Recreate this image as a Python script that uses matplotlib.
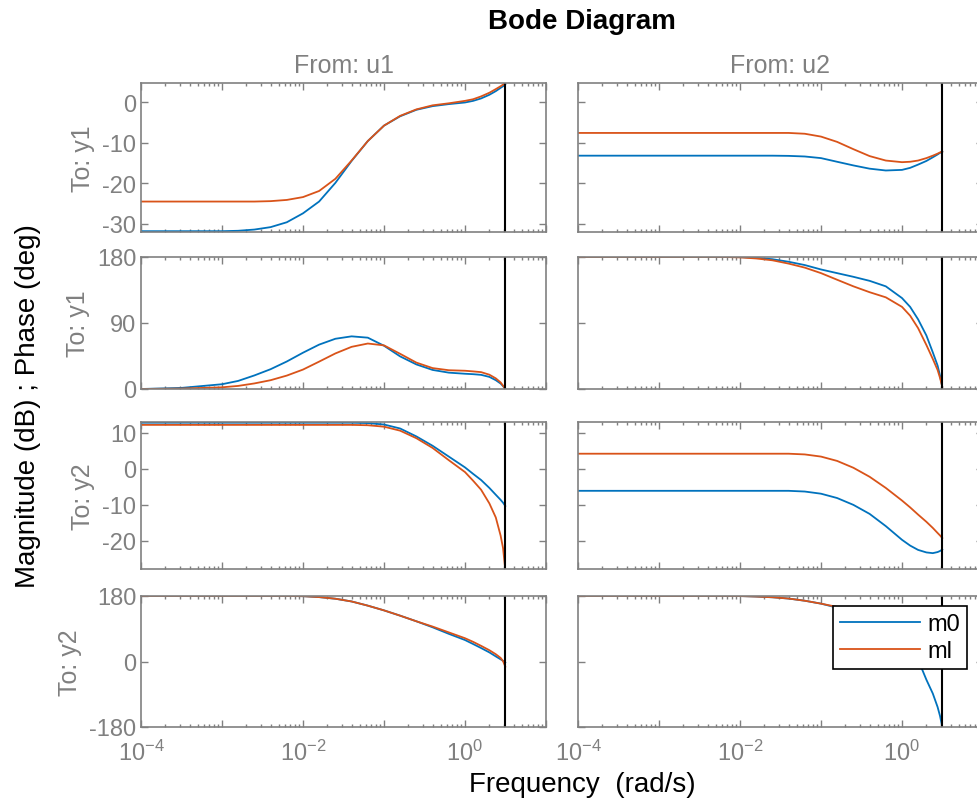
import numpy as np
import matplotlib
matplotlib.use("Agg")
import matplotlib.pyplot as plt
import matplotlib.ticker as ticker

plt.rcParams["font.family"] = ["Liberation Sans", "DejaVu Sans"]
plt.rcParams["axes.unicode_minus"] = False

# frequency grid (rad/s)
freq = [1e-4, 3.16e-4, 1e-3, 1.58e-3, 2.51e-3, 3.98e-3, 6.31e-3, 1e-2, 1.58e-2,
        2.51e-2, 3.98e-2, 6.31e-2, 0.1, 0.158, 0.251, 0.398, 0.631, 1.0, 1.26,
        1.58, 2.0, 2.4, 2.75, 2.95, 3.1416]

# To: y1, From: u1 -- magnitude (dB) / phase (deg)
mag11_m0 = [-31.8, -31.8, -31.8, -31.7, -31.4, -30.8, -29.6, -27.4, -24.5, -19.9, -14.5,
            -9.6, -5.8, -3.5, -1.9, -1.0, -0.5, -0.1, 0.3, 0.9, 1.8, 2.7, 3.5, 3.9, 4.4]
mag11_ml = [-24.5, -24.5, -24.5, -24.5, -24.5, -24.4, -24.1, -23.4, -21.9, -18.9, -14.4,
            -9.6, -5.8, -3.4, -1.8, -0.8, -0.3, 0.3, 0.7, 1.4, 2.3, 3.2, 3.9, 4.3, 4.7]
ph11_m0 = [0, 1.5, 6.5, 11, 18.5, 27, 37.5, 49.5, 60.5, 68.5, 71.8, 70, 59, 44.5, 33.5,
           26, 22.3, 20.8, 20.2, 19.3, 16.5, 12, 7.5, 4, 0]
ph11_ml = [0, 0.6, 2.3, 4.2, 7.6, 12, 18.3, 26.5, 37.3, 48.5, 57.5, 62, 59.5, 48, 36,
           28.5, 25.6, 24.9, 24, 23, 19.5, 14.5, 9, 4.5, 0]

# To: y1, From: u2
mag12_m0 = [-13.2, -13.2, -13.2, -13.2, -13.2, -13.2, -13.2, -13.2, -13.2, -13.2, -13.25,
            -13.4, -13.8, -14.7, -15.6, -16.4, -16.85, -16.7, -16.2, -15.4, -14.5, -13.6,
            -12.9, -12.5, -12.2]
mag12_ml = [-7.6, -7.6, -7.6, -7.6, -7.6, -7.6, -7.6, -7.6, -7.6, -7.6, -7.6,
            -7.8, -8.5, -9.8, -11.6, -13.3, -14.4, -14.8, -14.7, -14.4, -13.8, -13.2,
            -12.7, -12.4, -12.2]
ph12_m0 = [180, 180, 180, 180, 180, 180, 180, 179.8, 179, 177, 173.5, 169, 163, 158, 153,
           147.5, 140, 124, 112, 95, 73, 50, 32, 18, 3]
ph12_ml = [180, 180, 180, 180, 180, 180, 180, 179.5, 178, 175.5, 171, 165.5, 158, 149, 140,
           132, 125, 112, 100, 83, 60, 41, 26, 15, 3]

# To: y2, From: u1
mag21_m0 = [12.8, 12.8, 12.8, 12.8, 12.8, 12.8, 12.8, 12.8, 12.8, 12.8, 12.8, 12.7, 12.3,
            11.2, 9.0, 6.4, 3.4, 0.4, -1.4, -3.1, -5.3, -7.2, -8.6, -9.4, -10.3]
mag21_ml = [12.2, 12.2, 12.2, 12.2, 12.2, 12.2, 12.2, 12.2, 12.2, 12.2, 12.2, 12.1, 11.7,
            10.6, 8.5, 5.8, 2.4, -0.9, -3.3, -5.8, -9.6, -13.5, -18.5, -22.0, -28.0]
ph21_m0 = [180, 180, 180, 180, 180, 180, 180, 179.5, 177, 172.5, 165, 153.5, 140.5, 126,
           110.5, 94, 76, 59, 48, 37, 25, 14, 6, 2, -3]
ph21_ml = [180, 180, 180, 180, 180, 180, 180, 179.5, 177, 172.5, 165, 153.5, 140.5, 126,
           110.5, 96, 80, 64, 54, 43, 31, 20, 10, 1, -14]

# To: y2, From: u2
mag22_m0 = [-6.1, -6.1, -6.1, -6.1, -6.1, -6.1, -6.1, -6.1, -6.1, -6.1, -6.1, -6.3, -6.9,
            -8.1, -10.0, -12.5, -15.9, -19.7, -21.3, -22.5, -23.2, -23.4, -23.1, -22.8, -22.4]
mag22_ml = [4.2, 4.2, 4.2, 4.2, 4.2, 4.2, 4.2, 4.2, 4.2, 4.2, 4.2, 4.0, 3.4, 2.2, 0.3,
            -2.2, -5.3, -8.8, -10.7, -12.7, -14.7, -16.4, -17.8, -18.5, -19.2]
ph22_m0 = [180, 180, 180, 180, 180, 180, 180, 179.8, 178.5, 176.5, 173, 167, 159, 148,
           136, 120, 100, 72, 48, 5, -50, -88, -125, -150, -180]
ph22_ml = [180, 180, 180, 180, 180, 180, 180, 179.8, 178.5, 176.5, 173, 167, 159, 150,
           140, 128, 112, 90, 76, 60, 42, 26, 14, 5, -5]

series_names = ["m0", "ml"]
blue = "#0072BD"
orange = "#D95319"
gray = "#808080"
nyquist = np.pi

W, H = 977, 804
fig = plt.figure(figsize=(W / 100, H / 100), dpi=100)

col_x = [141, 578]
col_w = 405
rows = [(84, 233), (258, 390), (423, 570), (597, 728)]

panels = [
    [(mag11_m0, mag11_ml), (mag12_m0, mag12_ml)],
    [(ph11_m0, ph11_ml), (ph12_m0, ph12_ml)],
    [(mag21_m0, mag21_ml), (mag22_m0, mag22_ml)],
    [(ph21_m0, ph21_ml), (ph22_m0, ph22_ml)],
]
ylims = [(-32, 4.7), (0, 180), (-27.8, 13.0), (-180, 180)]
yticks = [[-30, -20, -10, 0], [0, 90, 180], [-20, -10, 0, 10], [-180, 0, 180]]
row_labels = ["To: y1", "To: y1", "To: y2", "To: y2"]


def xfmt(v, pos):
    e = int(round(np.log10(v)))
    if e % 2 == 0:
        return r"$\mathregular{10^{%d}}$" % e
    return ""


axes = {}
for r, (top, bot) in enumerate(rows):
    for c in range(2):
        ax = fig.add_axes([col_x[c] / W, 1 - bot / H, col_w / W, (bot - top) / H])
        axes[(r, c)] = ax
        m0, ml = panels[r][c]
        ax.plot(freq, m0, color=blue, lw=1.3, label=series_names[0])
        ax.plot(freq, ml, color=orange, lw=1.3, label=series_names[1])
        ax.axvline(nyquist, color="black", lw=1.5)
        ax.set_xscale("log")
        ax.set_xlim(1e-4, 10)
        ax.set_ylim(*ylims[r])
        ax.set_yticks(yticks[r])
        ax.xaxis.set_major_locator(ticker.FixedLocator([1e-4, 1e-3, 1e-2, 1e-1, 1e0, 1e1]))
        ax.xaxis.set_major_formatter(ticker.FuncFormatter(xfmt))
        ax.xaxis.set_minor_locator(ticker.LogLocator(base=10, subs=np.arange(2, 10), numticks=20))
        ax.xaxis.set_minor_formatter(ticker.NullFormatter())
        ax.tick_params(which="both", direction="in", top=True, right=True,
                       colors=gray, labelcolor=gray, labelsize=17, width=1)
        ax.tick_params(which="major", length=5)
        ax.tick_params(which="minor", length=2.5)
        ax.tick_params(axis="x", pad=9)
        for s in ax.spines.values():
            s.set_color(gray)
            s.set_linewidth(1.2)
        if r < 3:
            ax.tick_params(axis="x", labelbottom=False)
        if c == 1:
            ax.tick_params(axis="y", labelleft=False)
        else:
            ax.set_ylabel(row_labels[r], color=gray, fontsize=18, labelpad=5)

axes[(0, 0)].set_title("From: u1", color=gray, fontsize=18, pad=8)
axes[(0, 1)].set_title("From: u2", color=gray, fontsize=18, pad=8)

leg = axes[(3, 1)].legend(loc="upper left", bbox_to_anchor=(833 / W, 1 - 607 / H),
                          bbox_transform=fig.transFigure, borderaxespad=0,
                          fancybox=False, framealpha=1, edgecolor="black",
                          fontsize=17, handlelength=3.4, handletextpad=0.3,
                          labelspacing=0.2, borderpad=0.3)
leg.get_frame().set_linewidth(1.2)

fig.text(582 / W, 1 - 22 / H, "Bode Diagram", ha="center", va="center",
         fontsize=20, fontweight="bold")
fig.text(582 / W, 1 - 785 / H, "Frequency  (rad/s)", ha="center", va="center",
         fontsize=20)
fig.text(28 / W, 1 - 406 / H, "Magnitude (dB) ; Phase (deg)", ha="center",
         va="center", rotation=90, fontsize=20)

plt.savefig("out.png", dpi=100)
